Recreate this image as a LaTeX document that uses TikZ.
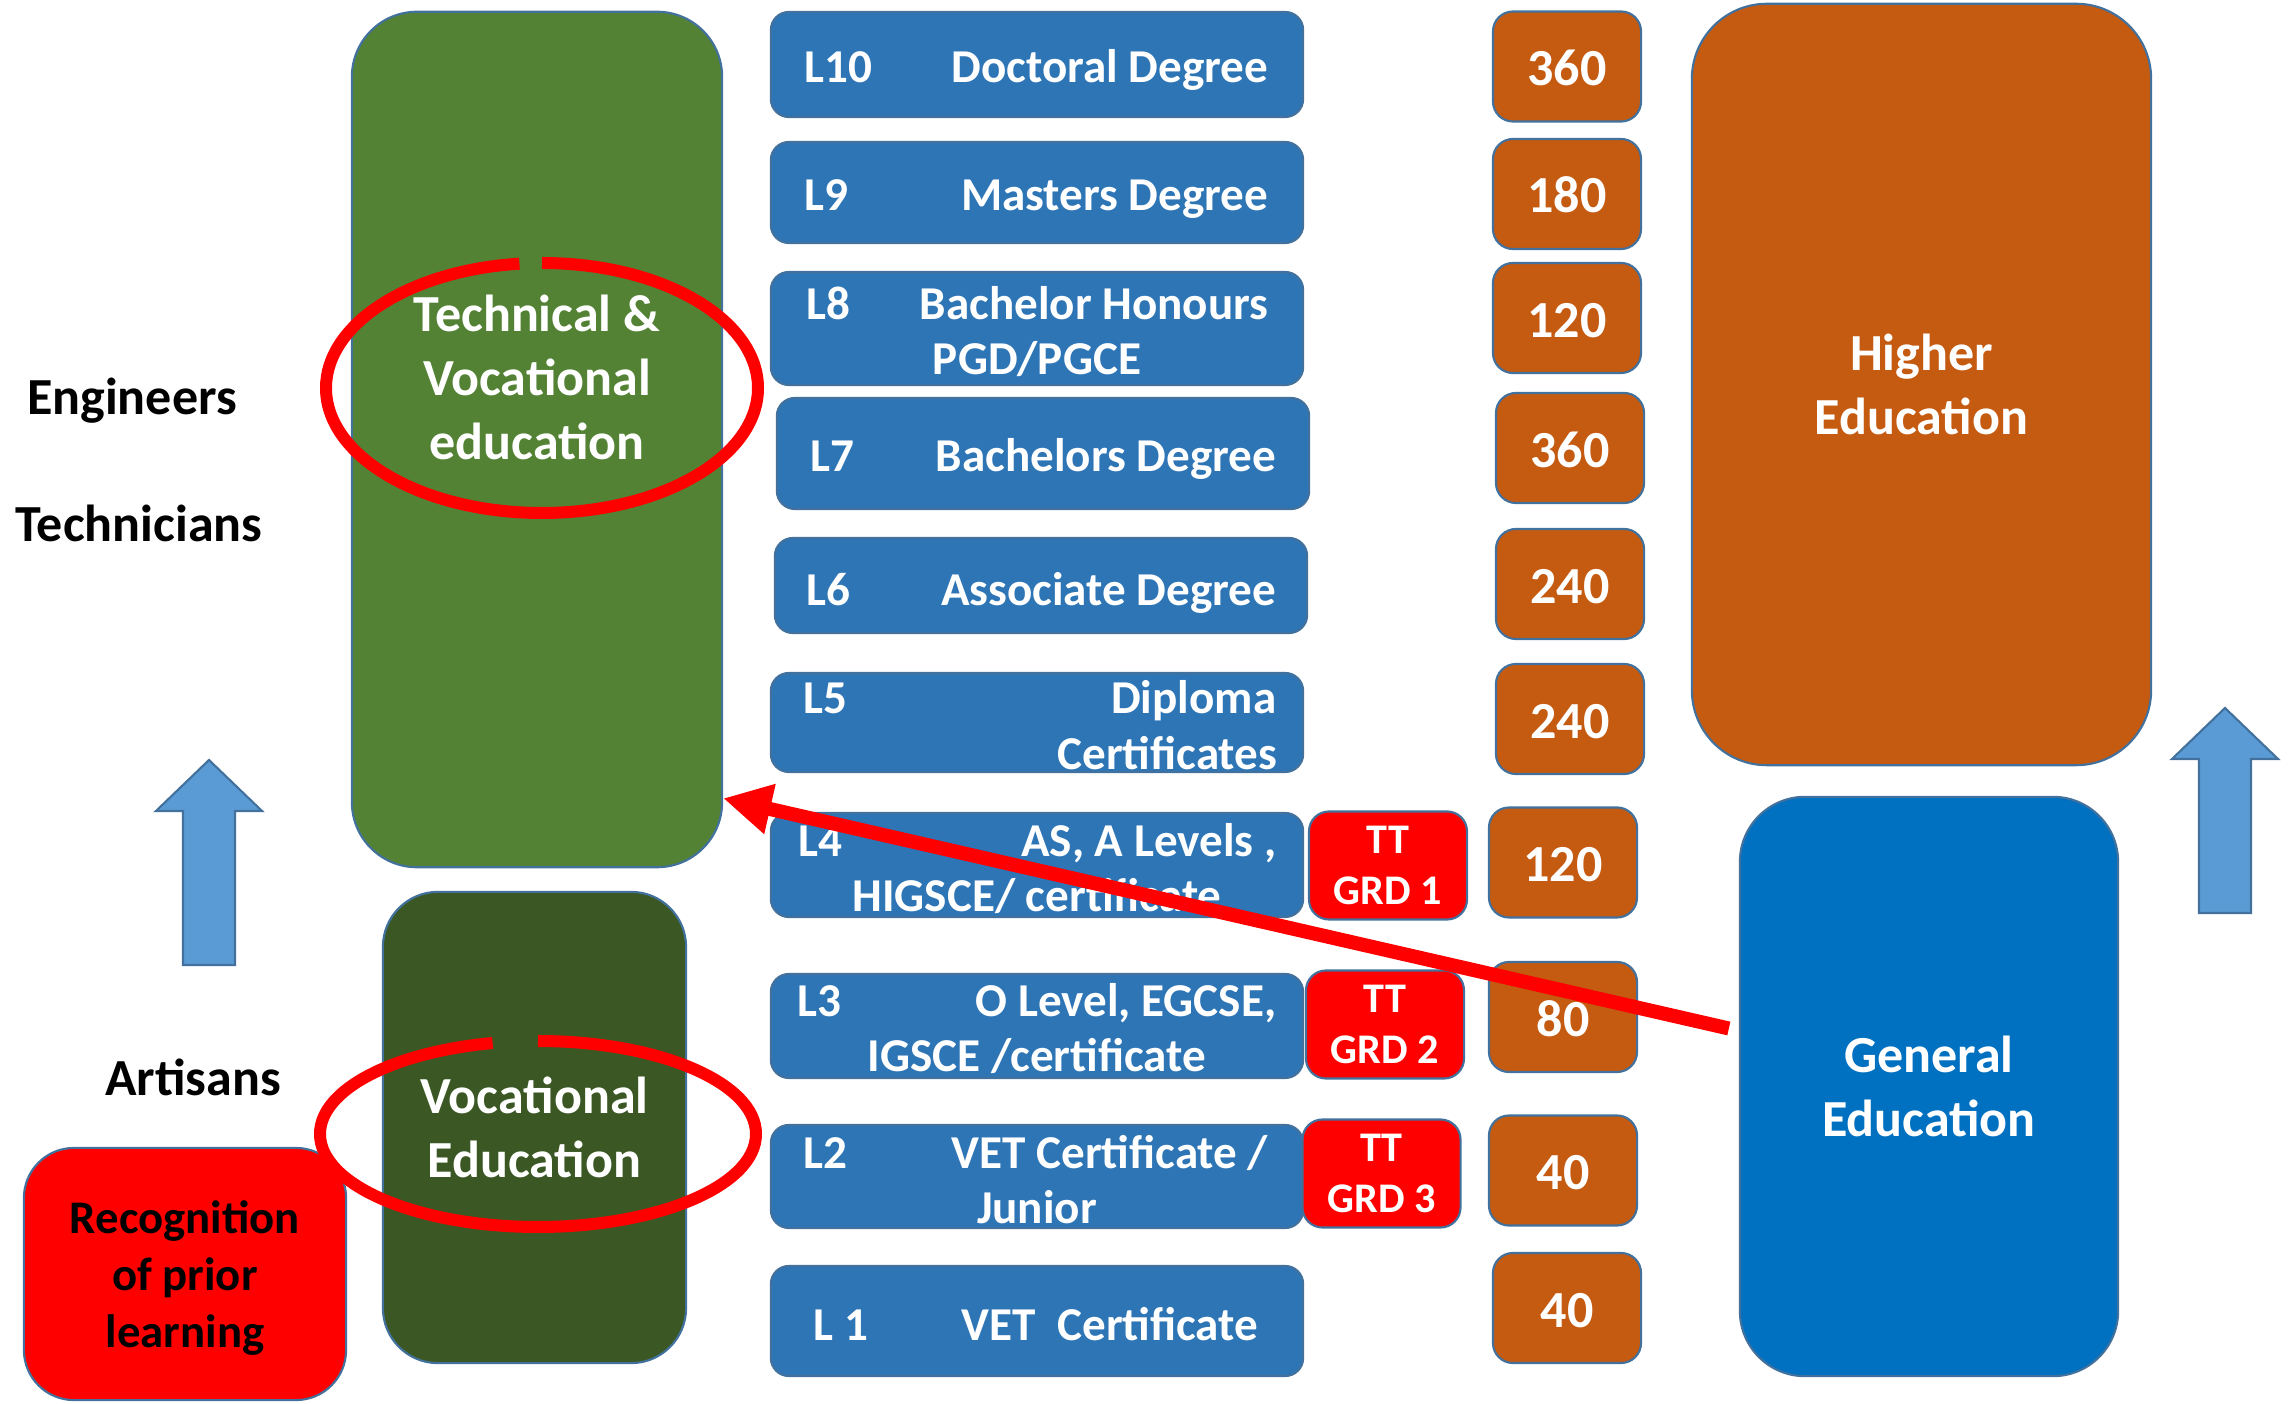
\documentclass[tikz,border=0pt]{standalone}
\usepackage{fontspec}
\setmainfont{Carlito}
\usetikzlibrary{arrows.meta,calc}

\definecolor{lvlblue}{HTML}{2E75B6}
\definecolor{edgeblue}{HTML}{41719C}
\definecolor{tvetgreen}{HTML}{548235}
\definecolor{vocgreen}{HTML}{3B5724}
\definecolor{credorange}{HTML}{C55A11}
\definecolor{genblue}{HTML}{0070C0}
\definecolor{liftblue}{HTML}{5B9BD5}
\definecolor{alertred}{HTML}{FF0000}

\tikzset{
  lift/.pic={\draw[draw=edgeblue, fill=liftblue, line width=0.6pt] (0,0) -- (53,51) -- (26,51) -- (26,205) -- (-26,205) -- (-26,51) -- (-53,51) -- cycle;}
}

\begin{document}
\begin{tikzpicture}[x=0.01cm, y=-0.01cm]
    \useasboundingbox (0,0) rectangle (2293,1404);
    \begin{scope}[box/.style={draw=edgeblue, line width=0.6pt, inner sep=0pt},
        big/.style={align=center, text=white, font=\fontsize{14.8}{18.2}\selectfont\bfseries},
        lvl/.style={box, fill=lvlblue, rounded corners=0.18cm, minimum width=5.32cm},
        lvltxt/.style={inner sep=0pt, text=white, text height=0.34cm, text depth=0pt, font=\fontsize{13.4}{16}\selectfont\bfseries},
        tt/.style={box, fill=alertred, rounded corners=0.2cm, minimum width=1.58cm, minimum height=1.08cm, align=center, text=white, text depth=-0.08cm, font=\fontsize{12}{14.5}\selectfont\bfseries},
        cred/.style={box, fill=credorange, rounded corners=0.2cm, minimum width=1.48cm, minimum height=1.10cm, text=white, text height=0.38cm, text depth=0pt, font=\fontsize{14.8}{18}\selectfont\bfseries},
        who/.style={inner sep=0pt, text height=0.33cm, text depth=0pt, font=\fontsize{14.8}{18}\selectfont\bfseries},
        ring/.style={draw=alertred, line width=0.12cm}]

        \node[box, fill=tvetgreen, rounded corners=0.65cm, minimum width=3.70cm, minimum height=8.55cm] (tvet) at (537, 439.5) {};
        \node[big] (tvetlbl) at (537, 377) {Technical \&\\Vocational\\education};
        \node[box, big, fill=vocgreen, rounded corners=0.55cm, minimum width=3.03cm, minimum height=4.71cm, text depth=-0.06cm] (voc) at (534.5, 1127.5) {Vocational\\Education};
        \node[box, fill=alertred, rounded corners=0.5cm, minimum width=3.22cm, minimum height=2.52cm, align=center, text depth=0pt, font=\fontsize{13.3}{16.2}\selectfont\bfseries] (rpl) at (185, 1274) {Recognition\\of prior\\learning};
        \node[box, big, fill=credorange, rounded corners=0.75cm, minimum width=4.59cm, minimum height=7.61cm] (higher) at (1921.5, 384.5) {Higher\\Education};
        \node[box, big, fill=genblue, rounded corners=0.65cm, minimum width=3.78cm, minimum height=5.79cm] (gened) at (1929, 1086.5) {General\\Education};

        \node[who] (eng) at (132, 398) {Engineers};
        \node[who] (tech) at (139, 525) {Technicians};
        \node[who] (art) at (193, 1079) {Artisans};

        \node[lvl, minimum height=1.05cm] (l10) at (1037, 64.5) {};
        \node[lvl, minimum height=1.01cm] (l9) at (1037, 192.5) {};
        \node[lvl, minimum height=1.13cm] (l8) at (1037, 328.5) {};
        \node[lvl, minimum height=1.11cm] (l7) at (1043, 453.5) {};
        \node[lvl, minimum height=0.95cm] (l6) at (1041, 585.5) {};
        \node[lvl, minimum height=0.99cm] (l5) at (1037, 722.5) {};
        \node[lvl, minimum height=1.04cm] (l4) at (1037, 865) {};
        \node[lvl, minimum height=1.04cm] (l3) at (1037, 1026) {};
        \node[lvl, minimum height=1.03cm] (l2) at (1037, 1176.5) {};
        \node[lvl, minimum height=1.10cm] (l1) at (1037, 1321) {};

        \node[lvltxt, anchor=west] (l10tag) at (804, 66) {L10};
        \node[lvltxt, anchor=east] (l10txt) at (1269, 66) {Doctoral Degree};
        \node[lvltxt, anchor=west] (l9tag) at (804, 194) {L9};
        \node[lvltxt, anchor=east] (l9txt) at (1269, 194) {Masters Degree};
        \node[lvltxt, anchor=west] (l8tag) at (806, 303) {L8};
        \node[lvltxt, anchor=east] (l8txt) at (1269, 303) {Bachelor Honours};
        \node[lvltxt] (l8more) at (1037, 358) {PGD/PGCE};
        \node[lvltxt, anchor=west] (l7tag) at (810, 455) {L7};
        \node[lvltxt, anchor=east] (l7txt) at (1277, 455) {Bachelors Degree};
        \node[lvltxt, anchor=west] (l6tag) at (806, 588) {L6};
        \node[lvltxt, anchor=east] (l6txt) at (1277, 588) {Associate Degree};
        \node[lvltxt, anchor=west] (l5tag) at (803, 696) {L5};
        \node[lvltxt, anchor=east] (l5txt) at (1277, 696) {Diploma};
        \node[lvltxt, anchor=east] (l5more) at (1278, 752) {Certificates};
        \node[lvltxt, anchor=west] (l4tag) at (798, 839) {L4};
        \node[lvltxt, anchor=east] (l4txt) at (1277, 839) {AS, A Levels ,};
        \node[lvltxt] (l4more) at (1037, 894) {HIGSCE/ certificate};
        \node[lvltxt, anchor=west] (l3tag) at (797, 999) {L3};
        \node[lvltxt, anchor=east] (l3txt) at (1277, 999) {O Level, EGCSE,};
        \node[lvltxt] (l3more) at (1037, 1054) {IGSCE /certificate};
        \node[lvltxt, anchor=west] (l2tag) at (803, 1151) {L2};
        \node[lvltxt, anchor=east] (l2txt) at (1269, 1151) {VET Certificate /};
        \node[lvltxt] (l2more) at (1037, 1206) {Junior};
        \node[lvltxt, anchor=west] (l1tag) at (813, 1323) {L 1};
        \node[lvltxt, anchor=east] (l1txt) at (1259, 1323) {VET\ \ Certificate};

        \node[tt] (grd1) at (1388, 865.5) {TT\\GRD 1};
        \node[tt] (grd2) at (1385, 1024.5) {TT\\GRD 2};
        \node[tt] (grd3) at (1381.5, 1173.5) {TT\\GRD 3};

        \node[cred] (c10) at (1567, 66.5) {360};
        \node[cred] (c9) at (1567, 194) {180};
        \node[cred] (c8) at (1567, 318) {120};
        \node[cred] (c7) at (1570, 448) {360};
        \node[cred] (c6) at (1570, 584) {240};
        \node[cred] (c5) at (1570, 719) {240};
        \node[cred] (c4) at (1563, 862.5) {120};
        \node[cred] (c3) at (1563, 1017) {80};
        \node[cred] (c2) at (1563, 1170.5) {40};
        \node[cred] (c1) at (1567, 1308) {40};

        \pic (liftleft) at (209, 760) {lift};
        \pic (liftright) at (2225, 708) {lift};

        \draw[ring] (542, 388) ++(270:216 and 125) arc[start angle=270, end angle=624, x radius=216, y radius=125];
        \draw[ring] (538, 1134) ++(270:218 and 93) arc[start angle=270, end angle=618, x radius=218, y radius=93];

        \draw[draw=alertred, line width=0.14cm, -{Triangle[length=0.48cm, width=0.48cm]}] ($(gened.west)+(-10,-58)$) -- ($(tvet.south east)+(0,-70)$);
    \end{scope}
\end{tikzpicture}
\end{document}
